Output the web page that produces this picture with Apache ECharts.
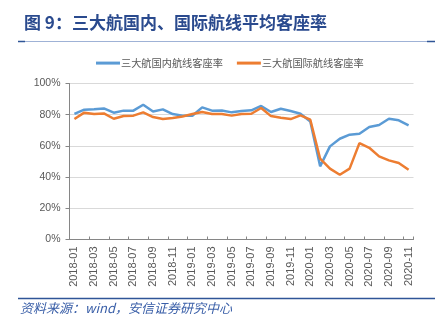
<!DOCTYPE html>
<html>
<head>
<meta charset="utf-8">
<script src="https://cdn.jsdelivr.net/npm/echarts@6/dist/echarts.min.js"></script>
<style>
html,body{margin:0;padding:0;background:#fff;}
#chart{width:447px;height:326px;}
</style>
</head>
<body>
<div id="chart"></div>
<script>
const categories = [
  '2018-01','2018-02','2018-03','2018-04','2018-05','2018-06','2018-07','2018-08','2018-09','2018-10','2018-11','2018-12',
  '2019-01','2019-02','2019-03','2019-04','2019-05','2019-06','2019-07','2019-08','2019-09','2019-10','2019-11','2019-12',
  '2020-01','2020-02','2020-03','2020-04','2020-05','2020-06','2020-07','2020-08','2020-09','2020-10','2020-11'
];
const domestic = [
  80.5, 83.2, 83.5, 84.0, 81.3, 82.6, 82.6, 86.4, 82.1, 83.4, 80.4, 79.4,
  79.3, 84.7, 82.6, 82.7, 81.5, 82.4, 82.8, 85.6, 81.7, 83.8, 82.4, 80.6,
  75.7, 46.9, 59.7, 64.6, 67.2, 67.8, 72.1, 73.4, 77.4, 76.4, 73.2
];
const international = [
  77.2, 81.3, 80.4, 80.8, 77.4, 79.2, 79.4, 81.5, 78.5, 77.2, 77.9, 78.9,
  80.4, 81.7, 80.4, 80.4, 79.4, 80.4, 80.6, 84.3, 79.1, 78.1, 77.2, 79.6,
  76.8, 51.8, 45.4, 41.5, 45.4, 61.8, 58.8, 53.3, 50.7, 49.0, 44.7
];
const seriesNames = ['三大航国内航线客座率', '三大航国际航线客座率'];
const titleText = '图 9：三大航国内、国际航线平均客座率';
const sourceText = '资料来源：wind，安信证券研究中心';

const chart = echarts.init(document.getElementById('chart'), null, {renderer: 'canvas'});
const font = '"Liberation Sans", Arial, "Noto Sans CJK SC", sans-serif';
const option = {
  backgroundColor: '#ffffff',
  animation: false,
  textStyle: {fontFamily: font},
  title: {
    text: titleText,
    left: 19,
    top: 8,
    textStyle: {
      fontFamily: '"Noto Sans CJK SC", sans-serif',
      fontSize: 17,
      fontWeight: 'bold',
      color: '#2a4a8e',
      lineHeight: 19
    }
  },
  legend: {
    left: 91,
    top: 53,
    itemWidth: 24,
    itemHeight: 3,
    itemGap: 14,
    icon: 'rect',
    textStyle: {fontFamily: '"Noto Sans CJK SC", sans-serif', fontSize: 10.2, color: '#595959', padding: [0,0,0,-4]},
    data: seriesNames
  },
  grid: {left: 69.5, right: 33.5, top: 83.5, bottom: 86.5, containLabel: false},
  xAxis: {
    type: 'category',
    data: categories,
    boundaryGap: true,
    axisLine: {lineStyle: {color: '#868686', width: 1}},
    axisTick: {show: true, inside: true, length: 3, interval: 1, lineStyle: {color: '#868686'}},
    axisLabel: {interval: 1, rotate: 90, fontSize: 11, color: '#595959', margin: 7},
    splitLine: {show: false}
  },
  yAxis: {
    type: 'value',
    min: 0, max: 100, interval: 20,
    axisLine: {show: true, lineStyle: {color: '#868686', width: 1}},
    axisTick: {show: true, inside: false, length: 4, lineStyle: {color: '#868686'}},
    axisLabel: {formatter: '{value}%', fontSize: 10.5, color: '#595959', margin: 9},
    splitLine: {lineStyle: {color: '#d9d9d9', width: 1}}
  },
  series: [
    {
      name: seriesNames[0], type: 'line', data: domestic,
      symbol: 'none', smooth: false,
      lineStyle: {color: '#5b9bd5', width: 2.5},
      itemStyle: {color: '#5b9bd5'}
    },
    {
      name: seriesNames[1], type: 'line', data: international,
      symbol: 'none', smooth: false,
      lineStyle: {color: '#ed7d31', width: 2.5},
      itemStyle: {color: '#ed7d31'}
    }
  ],
  graphic: [
    {type: 'line', shape: {x1: 18, y1: 41.5, x2: 435, y2: 41.5}, style: {stroke: '#9fb2d6', lineWidth: 1}},
    {type: 'line', shape: {x1: 18, y1: 41.5, x2: 25, y2: 41.5}, style: {stroke: '#2f5597', lineWidth: 1.5}},
    {type: 'line', shape: {x1: 427, y1: 41.5, x2: 435, y2: 41.5}, style: {stroke: '#2f5597', lineWidth: 1.5}},
    {type: 'line', shape: {x1: 18, y1: 298.5, x2: 435, y2: 298.5}, style: {stroke: '#2f5597', lineWidth: 1.5}},
    {type: 'text', left: 20, top: 302, style: {text: sourceText, fontFamily: '"Noto Sans CJK SC", sans-serif', fontSize: 13, fontStyle: 'italic', fill: '#3a5fa8'}}
  ]
};
chart.setOption(option);
</script>
</body>
</html>
